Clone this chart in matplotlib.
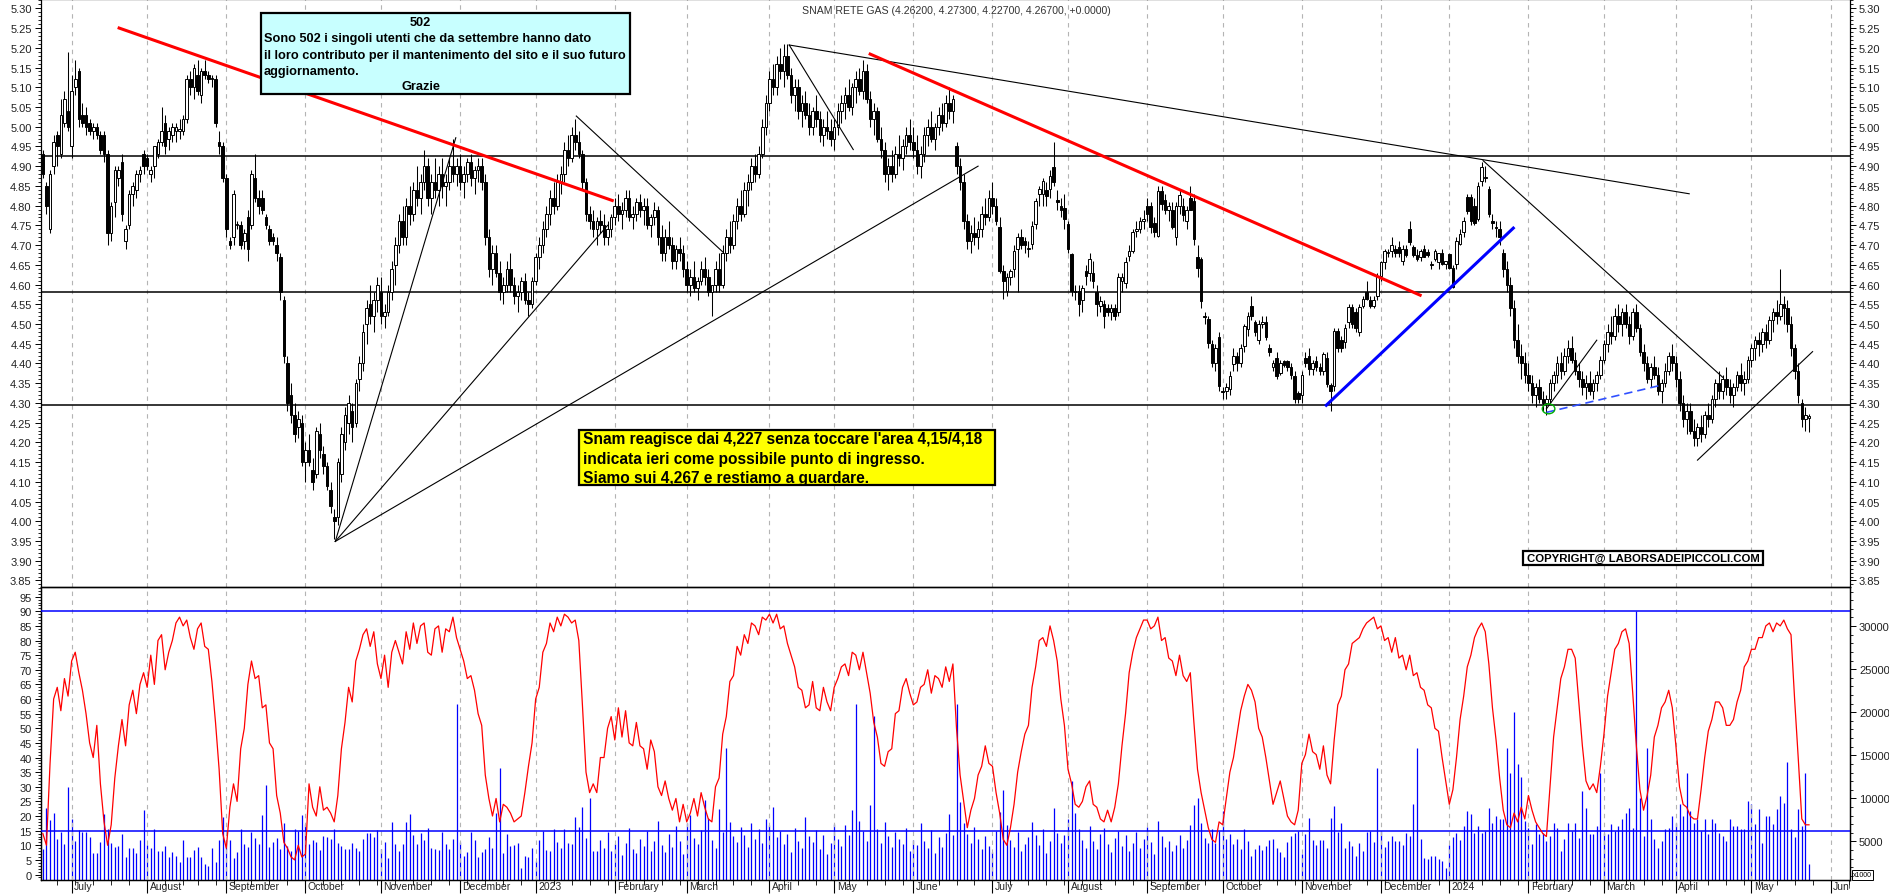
import numpy as np
import pandas as pd
import matplotlib
matplotlib.use("Agg")
import matplotlib.pyplot as plt
from matplotlib.patches import Rectangle, Ellipse
from matplotlib.ticker import MultipleLocator, FixedLocator, FormatStrFormatter
import matplotlib.transforms as mtransforms

# --------------------------------------------------------------
# DATA (daily candles, Snam 21/06/2022 - 24/05/2024)
# --------------------------------------------------------------
opens = [
    4.93, 4.85, 4.74, 4.90, 4.98, 4.93, 5.01, 5.04, 4.95, 5.10,
    5.14, 5.03, 5.03, 5.01, 4.99, 5.00, 4.98, 4.98, 4.93, 4.73,
    4.81, 4.87, 4.91, 4.71, 4.75, 4.83, 4.84, 4.88, 4.93, 4.92,
    4.88, 4.90, 4.93, 4.96, 5.01, 4.97, 4.98, 4.99, 4.99, 4.99,
    5.02, 5.12, 5.10, 5.13, 5.08, 5.14, 5.13, 5.12, 5.12, 4.96,
    4.95, 4.87, 4.71, 4.72, 4.75, 4.75, 4.71, 4.77, 4.75, 4.87,
    4.82, 4.82, 4.77, 4.74, 4.72, 4.70, 4.67, 4.56, 4.40, 4.32,
    4.27, 4.24, 4.25, 4.15, 4.18, 4.13, 4.12, 4.22, 4.17, 4.14,
    4.08, 4.01, 4.01, 4.12, 4.20, 4.25, 4.28, 4.25, 4.36, 4.40,
    4.50, 4.55, 4.52, 4.56, 4.58, 4.52, 4.53, 4.58, 4.65, 4.70,
    4.76, 4.72, 4.80, 4.78, 4.84, 4.82, 4.86, 4.90, 4.82, 4.86,
    4.84, 4.88, 4.85, 4.86, 4.90, 4.88, 4.90, 4.86, 4.88, 4.91,
    4.87, 4.89, 4.90, 4.86, 4.72, 4.64, 4.68, 4.63, 4.58, 4.60,
    4.64, 4.60, 4.57, 4.58, 4.61, 4.56, 4.55, 4.61, 4.67, 4.70,
    4.74, 4.78, 4.82, 4.80, 4.86, 4.88, 4.94, 4.92, 4.98, 4.96,
    4.93, 4.86, 4.78, 4.76, 4.74, 4.76, 4.75, 4.72, 4.74, 4.77,
    4.80, 4.78, 4.79, 4.82, 4.77, 4.78, 4.81, 4.79, 4.80, 4.75,
    4.77, 4.79, 4.72, 4.68, 4.72, 4.70, 4.66, 4.69, 4.68, 4.64,
    4.60, 4.62, 4.59, 4.61, 4.64, 4.62, 4.58, 4.60, 4.64, 4.60,
    4.68, 4.72, 4.70, 4.76, 4.80, 4.78, 4.84, 4.86, 4.90, 4.88,
    4.93, 5.00, 5.06, 5.12, 5.10, 5.16, 5.14, 5.18, 5.13, 5.08,
    5.10, 5.04, 5.06, 5.03, 5.00, 5.04, 5.02, 4.98, 5.00, 4.99,
    4.97, 5.00, 5.04, 5.06, 5.08, 5.05, 5.10, 5.12, 5.09, 5.14,
    5.07, 5.02, 5.04, 4.97, 4.94, 4.88, 4.90, 4.88, 4.93, 4.92,
    4.95, 4.98, 4.96, 4.94, 4.90, 4.93, 4.98, 5.00, 4.97, 5.00,
    5.03, 5.01, 5.06, 5.04, 4.95, 4.90, 4.86, 4.76, 4.71, 4.73,
    4.72, 4.74, 4.78, 4.77, 4.82, 4.80, 4.745, 4.635, 4.584, 4.62,
    4.64, 4.69, 4.72, 4.71, 4.69, 4.703, 4.753, 4.83, 4.83, 4.84,
    4.842, 4.897, 4.815, 4.80, 4.795, 4.753, 4.677, 4.584, 4.584, 4.56,
    4.635, 4.63, 4.63, 4.58, 4.546, 4.55, 4.54, 4.53, 4.54, 4.53,
    4.61, 4.605, 4.673, 4.685, 4.735, 4.74, 4.76, 4.80, 4.80, 4.757,
    4.724, 4.838, 4.815, 4.79, 4.79, 4.72, 4.80, 4.80, 4.76, 4.82,
    4.812, 4.669, 4.665, 4.52, 4.512, 4.449, 4.40, 4.466, 4.33, 4.33,
    4.335, 4.398, 4.42, 4.40, 4.445, 4.487, 4.546, 4.504, 4.46, 4.50,
    4.504, 4.44, 4.39, 4.415, 4.375, 4.405, 4.405, 4.39, 4.369, 4.326,
    4.32, 4.415, 4.42, 4.385, 4.405, 4.39, 4.381, 4.415, 4.345, 4.343,
    4.483, 4.46, 4.455, 4.504, 4.542, 4.53, 4.479, 4.545, 4.58, 4.56,
    4.545, 4.572, 4.622, 4.656, 4.68, 4.685, 4.69, 4.695, 4.66, 4.69,
    4.74, 4.695, 4.675, 4.67, 4.69, 4.683, 4.65, 4.665, 4.657, 4.68,
    4.652, 4.677, 4.643, 4.652, 4.703, 4.732, 4.821, 4.821, 4.80, 4.766,
    4.863, 4.87, 4.842, 4.76, 4.745, 4.74, 4.68, 4.64, 4.60, 4.54,
    4.46, 4.42, 4.40, 4.37, 4.35, 4.32, 4.34, 4.31, 4.30, 4.31,
    4.35, 4.37, 4.40, 4.38, 4.42, 4.44, 4.41, 4.38, 4.36, 4.34,
    4.35, 4.33, 4.35, 4.37, 4.41, 4.45, 4.48, 4.47, 4.52, 4.50,
    4.53, 4.50, 4.47, 4.53, 4.49, 4.43, 4.40, 4.36, 4.39, 4.37,
    4.33, 4.35, 4.38, 4.42, 4.40, 4.36, 4.30, 4.26, 4.28, 4.23,
    4.21, 4.24, 4.22, 4.27, 4.26, 4.31, 4.35, 4.33, 4.36, 4.34,
    4.32, 4.34, 4.37, 4.35, 4.36, 4.41, 4.44, 4.46, 4.45, 4.48,
    4.46, 4.51, 4.53, 4.52, 4.55, 4.54, 4.50, 4.44, 4.38, 4.30,
    4.26, 4.262,
]
highs = [
    4.94, 4.86, 4.89, 4.98, 4.99, 5.07, 5.09, 5.19, 5.13, 5.17,
    5.15, 5.06, 5.05, 5.02, 5.01, 5.01, 4.99, 4.99, 4.94, 4.81,
    4.90, 4.90, 4.93, 4.75, 4.84, 4.86, 4.89, 4.90, 4.94, 4.93,
    4.90, 4.95, 4.97, 5.05, 5.03, 5.00, 5.01, 5.01, 5.02, 5.03,
    5.13, 5.14, 5.16, 5.17, 5.15, 5.17, 5.14, 5.13, 5.13, 4.99,
    4.96, 4.88, 4.72, 4.84, 4.76, 4.76, 4.74, 4.79, 4.89, 4.93,
    4.84, 4.84, 4.78, 4.75, 4.73, 4.72, 4.68, 4.57, 4.42, 4.35,
    4.30, 4.28, 4.27, 4.20, 4.22, 4.16, 4.24, 4.25, 4.19, 4.15,
    4.10, 4.03, 4.16, 4.24, 4.29, 4.32, 4.30, 4.36, 4.42, 4.50,
    4.56, 4.60, 4.58, 4.62, 4.62, 4.55, 4.60, 4.66, 4.72, 4.78,
    4.80, 4.82, 4.85, 4.86, 4.90, 4.88, 4.94, 4.92, 4.88, 4.92,
    4.90, 4.92, 4.88, 4.92, 4.97, 4.92, 4.93, 4.90, 4.92, 4.93,
    4.90, 4.92, 4.92, 4.88, 4.74, 4.70, 4.70, 4.66, 4.62, 4.66,
    4.68, 4.62, 4.60, 4.62, 4.63, 4.58, 4.62, 4.68, 4.72, 4.76,
    4.80, 4.84, 4.86, 4.88, 4.90, 4.96, 4.98, 5.00, 5.02, 4.99,
    4.94, 4.87, 4.80, 4.79, 4.77, 4.79, 4.78, 4.76, 4.78, 4.82,
    4.83, 4.81, 4.84, 4.84, 4.80, 4.82, 4.83, 4.82, 4.82, 4.78,
    4.81, 4.80, 4.75, 4.74, 4.76, 4.72, 4.70, 4.72, 4.70, 4.66,
    4.64, 4.66, 4.62, 4.66, 4.67, 4.64, 4.60, 4.66, 4.68, 4.70,
    4.74, 4.76, 4.78, 4.82, 4.84, 4.86, 4.88, 4.92, 4.93, 4.95,
    5.02, 5.08, 5.14, 5.16, 5.18, 5.20, 5.21, 5.21, 5.15, 5.12,
    5.12, 5.08, 5.09, 5.06, 5.05, 5.08, 5.04, 5.02, 5.04, 5.02,
    5.02, 5.06, 5.08, 5.10, 5.12, 5.11, 5.14, 5.15, 5.17, 5.16,
    5.09, 5.06, 5.05, 5.00, 4.96, 4.92, 4.94, 4.95, 4.98, 4.97,
    5.00, 5.02, 5.00, 4.98, 4.95, 5.00, 5.02, 5.04, 5.01, 5.05,
    5.06, 5.08, 5.10, 5.08, 4.96, 4.92, 4.88, 4.78, 4.75, 4.77,
    4.76, 4.80, 4.82, 4.84, 4.86, 4.82, 4.77, 4.65, 4.63, 4.64,
    4.70, 4.73, 4.74, 4.72, 4.71, 4.76, 4.82, 4.85, 4.87, 4.86,
    4.89, 4.96, 4.84, 4.82, 4.83, 4.76, 4.68, 4.60, 4.60, 4.60,
    4.65, 4.68, 4.66, 4.60, 4.57, 4.56, 4.55, 4.55, 4.55, 4.63,
    4.63, 4.67, 4.70, 4.74, 4.76, 4.77, 4.79, 4.82, 4.81, 4.77,
    4.85, 4.85, 4.83, 4.81, 4.81, 4.81, 4.84, 4.82, 4.80, 4.85,
    4.83, 4.70, 4.67, 4.53, 4.52, 4.46, 4.45, 4.48, 4.34, 4.35,
    4.38, 4.44, 4.43, 4.45, 4.50, 4.53, 4.57, 4.51, 4.51, 4.52,
    4.52, 4.45, 4.41, 4.43, 4.41, 4.41, 4.41, 4.40, 4.38, 4.33,
    4.38, 4.43, 4.44, 4.41, 4.42, 4.40, 4.43, 4.43, 4.35, 4.49,
    4.49, 4.47, 4.50, 4.55, 4.55, 4.54, 4.55, 4.57, 4.61, 4.57,
    4.57, 4.63, 4.66, 4.69, 4.69, 4.72, 4.70, 4.71, 4.70, 4.70,
    4.76, 4.70, 4.69, 4.69, 4.70, 4.69, 4.66, 4.69, 4.68, 4.69,
    4.66, 4.68, 4.65, 4.72, 4.74, 4.77, 4.83, 4.83, 4.82, 4.86,
    4.91, 4.90, 4.85, 4.78, 4.76, 4.76, 4.69, 4.66, 4.62, 4.56,
    4.50, 4.45, 4.43, 4.40, 4.37, 4.35, 4.36, 4.33, 4.32, 4.36,
    4.38, 4.42, 4.43, 4.44, 4.46, 4.47, 4.43, 4.40, 4.38, 4.37,
    4.38, 4.36, 4.38, 4.42, 4.46, 4.50, 4.52, 4.54, 4.55, 4.54,
    4.55, 4.52, 4.54, 4.55, 4.50, 4.45, 4.42, 4.40, 4.42, 4.39,
    4.36, 4.40, 4.43, 4.45, 4.42, 4.38, 4.32, 4.30, 4.30, 4.26,
    4.25, 4.27, 4.28, 4.30, 4.32, 4.36, 4.38, 4.37, 4.39, 4.36,
    4.35, 4.38, 4.40, 4.38, 4.42, 4.45, 4.47, 4.48, 4.49, 4.50,
    4.52, 4.54, 4.56, 4.64, 4.57, 4.56, 4.52, 4.45, 4.40, 4.31,
    4.29, 4.273,
]
lows = [
    4.87, 4.78, 4.73, 4.88, 4.90, 4.92, 5.00, 4.99, 4.92, 5.08,
    5.00, 5.00, 4.98, 4.98, 4.97, 4.97, 4.93, 4.91, 4.70, 4.71,
    4.77, 4.85, 4.76, 4.69, 4.74, 4.80, 4.82, 4.86, 4.88, 4.89,
    4.86, 4.87, 4.92, 4.95, 4.93, 4.94, 4.96, 4.96, 4.97, 4.98,
    5.01, 5.08, 5.07, 5.08, 5.06, 5.12, 5.11, 5.10, 5.00, 4.93,
    4.86, 4.72, 4.69, 4.70, 4.74, 4.69, 4.69, 4.66, 4.74, 4.81,
    4.78, 4.78, 4.74, 4.70, 4.70, 4.66, 4.56, 4.40, 4.28, 4.25,
    4.20, 4.21, 4.14, 4.10, 4.14, 4.08, 4.11, 4.16, 4.12, 4.08,
    4.02, 3.955, 3.99, 4.10, 4.18, 4.22, 4.20, 4.24, 4.33, 4.38,
    4.45, 4.50, 4.48, 4.53, 4.50, 4.49, 4.52, 4.56, 4.60, 4.68,
    4.70, 4.70, 4.75, 4.76, 4.80, 4.78, 4.84, 4.80, 4.78, 4.82,
    4.80, 4.82, 4.80, 4.84, 4.86, 4.85, 4.84, 4.82, 4.86, 4.85,
    4.83, 4.86, 4.84, 4.70, 4.62, 4.60, 4.62, 4.56, 4.55, 4.58,
    4.58, 4.55, 4.53, 4.56, 4.55, 4.52, 4.54, 4.60, 4.64, 4.68,
    4.72, 4.75, 4.78, 4.79, 4.83, 4.86, 4.90, 4.91, 4.94, 4.92,
    4.84, 4.76, 4.74, 4.72, 4.70, 4.73, 4.70, 4.70, 4.72, 4.75,
    4.76, 4.74, 4.77, 4.76, 4.74, 4.76, 4.77, 4.75, 4.74, 4.72,
    4.75, 4.70, 4.66, 4.66, 4.69, 4.64, 4.64, 4.66, 4.62, 4.58,
    4.57, 4.58, 4.56, 4.60, 4.60, 4.57, 4.52, 4.58, 4.58, 4.59,
    4.66, 4.68, 4.69, 4.74, 4.76, 4.77, 4.80, 4.84, 4.86, 4.87,
    4.92, 4.98, 5.04, 5.08, 5.08, 5.12, 5.10, 5.12, 5.06, 5.04,
    5.02, 5.00, 5.02, 4.98, 4.98, 5.00, 4.96, 4.95, 4.97, 4.95,
    4.94, 4.98, 5.01, 5.02, 5.04, 5.03, 5.06, 5.08, 5.07, 5.06,
    5.00, 4.98, 4.96, 4.92, 4.86, 4.84, 4.86, 4.87, 4.90, 4.89,
    4.93, 4.94, 4.92, 4.88, 4.87, 4.91, 4.95, 4.96, 4.94, 4.98,
    4.99, 5.00, 5.02, 5.01, 4.88, 4.84, 4.74, 4.69, 4.68, 4.70,
    4.69, 4.72, 4.75, 4.76, 4.78, 4.75, 4.63, 4.563, 4.57, 4.60,
    4.62, 4.58, 4.69, 4.68, 4.67, 4.69, 4.74, 4.80, 4.80, 4.80,
    4.82, 4.85, 4.79, 4.77, 4.74, 4.68, 4.57, 4.56, 4.52, 4.53,
    4.60, 4.61, 4.59, 4.52, 4.53, 4.49, 4.52, 4.51, 4.51, 4.52,
    4.58, 4.59, 4.66, 4.68, 4.72, 4.73, 4.74, 4.76, 4.73, 4.72,
    4.72, 4.79, 4.78, 4.76, 4.74, 4.70, 4.78, 4.76, 4.74, 4.79,
    4.70, 4.62, 4.54, 4.50, 4.44, 4.39, 4.38, 4.33, 4.31, 4.31,
    4.32, 4.38, 4.38, 4.39, 4.43, 4.47, 4.51, 4.47, 4.45, 4.49,
    4.46, 4.42, 4.38, 4.36, 4.37, 4.39, 4.38, 4.36, 4.30, 4.30,
    4.30, 4.39, 4.37, 4.37, 4.38, 4.37, 4.37, 4.34, 4.28, 4.33,
    4.43, 4.43, 4.44, 4.49, 4.49, 4.48, 4.47, 4.54, 4.56, 4.54,
    4.54, 4.56, 4.61, 4.64, 4.67, 4.67, 4.67, 4.67, 4.65, 4.67,
    4.70, 4.67, 4.66, 4.66, 4.67, 4.67, 4.64, 4.66, 4.64, 4.65,
    4.64, 4.64, 4.59, 4.64, 4.70, 4.72, 4.78, 4.75, 4.75, 4.76,
    4.85, 4.86, 4.77, 4.74, 4.72, 4.70, 4.62, 4.58, 4.52, 4.44,
    4.40, 4.36, 4.35, 4.33, 4.30, 4.29, 4.30, 4.28, 4.27, 4.30,
    4.33, 4.35, 4.36, 4.37, 4.40, 4.40, 4.37, 4.34, 4.32, 4.31,
    4.32, 4.31, 4.33, 4.36, 4.40, 4.43, 4.45, 4.46, 4.48, 4.47,
    4.49, 4.45, 4.46, 4.48, 4.42, 4.38, 4.35, 4.34, 4.36, 4.32,
    4.30, 4.34, 4.37, 4.38, 4.34, 4.28, 4.24, 4.22, 4.22, 4.19,
    4.19, 4.20, 4.21, 4.24, 4.25, 4.29, 4.31, 4.31, 4.32, 4.30,
    4.29, 4.33, 4.33, 4.32, 4.35, 4.39, 4.41, 4.42, 4.43, 4.44,
    4.45, 4.48, 4.50, 4.51, 4.50, 4.48, 4.42, 4.36, 4.30, 4.24,
    4.23, 4.227,
]
closes = [
    4.88, 4.80, 4.88, 4.96, 4.95, 5.03, 5.07, 5.00, 5.09, 5.12,
    5.02, 5.01, 5.00, 4.99, 5.00, 4.98, 4.94, 4.93, 4.73, 4.80,
    4.89, 4.89, 4.78, 4.74, 4.83, 4.85, 4.88, 4.89, 4.90, 4.90,
    4.89, 4.95, 4.96, 4.99, 4.95, 4.99, 5.00, 5.00, 4.99, 5.02,
    5.12, 5.10, 5.15, 5.09, 5.14, 5.13, 5.12, 5.12, 5.01, 4.95,
    4.87, 4.74, 4.70, 4.83, 4.75, 4.70, 4.73, 4.69, 4.88, 4.82,
    4.80, 4.79, 4.75, 4.71, 4.71, 4.68, 4.58, 4.42, 4.30, 4.27,
    4.22, 4.26, 4.15, 4.18, 4.15, 4.10, 4.23, 4.18, 4.14, 4.09,
    4.04, 4.00, 4.15, 4.22, 4.27, 4.30, 4.24, 4.35, 4.40, 4.48,
    4.54, 4.52, 4.56, 4.60, 4.52, 4.53, 4.58, 4.64, 4.70, 4.76,
    4.72, 4.80, 4.78, 4.84, 4.82, 4.86, 4.90, 4.82, 4.86, 4.84,
    4.88, 4.85, 4.86, 4.90, 4.88, 4.90, 4.86, 4.88, 4.91, 4.87,
    4.89, 4.90, 4.86, 4.72, 4.64, 4.68, 4.63, 4.58, 4.60, 4.64,
    4.60, 4.57, 4.58, 4.61, 4.56, 4.55, 4.61, 4.67, 4.70, 4.74,
    4.78, 4.82, 4.80, 4.86, 4.88, 4.94, 4.92, 4.98, 4.96, 4.93,
    4.86, 4.78, 4.76, 4.74, 4.76, 4.75, 4.72, 4.74, 4.77, 4.80,
    4.78, 4.79, 4.82, 4.77, 4.78, 4.81, 4.79, 4.80, 4.75, 4.77,
    4.79, 4.72, 4.68, 4.72, 4.70, 4.66, 4.69, 4.68, 4.64, 4.60,
    4.62, 4.59, 4.61, 4.64, 4.62, 4.58, 4.60, 4.64, 4.60, 4.68,
    4.72, 4.70, 4.76, 4.80, 4.78, 4.84, 4.86, 4.90, 4.88, 4.93,
    5.00, 5.06, 5.12, 5.10, 5.16, 5.14, 5.18, 5.13, 5.08, 5.10,
    5.04, 5.06, 5.03, 5.00, 5.04, 5.02, 4.98, 5.00, 4.99, 4.97,
    5.00, 5.04, 5.06, 5.08, 5.05, 5.10, 5.12, 5.09, 5.14, 5.07,
    5.02, 5.04, 4.97, 4.94, 4.88, 4.90, 4.88, 4.93, 4.92, 4.95,
    4.98, 4.96, 4.94, 4.90, 4.93, 4.98, 5.00, 4.97, 5.00, 5.03,
    5.01, 5.06, 5.04, 5.07, 4.90, 4.86, 4.76, 4.71, 4.73, 4.72,
    4.74, 4.78, 4.77, 4.82, 4.80, 4.76, 4.635, 4.61, 4.62, 4.635,
    4.685, 4.72, 4.70, 4.70, 4.69, 4.749, 4.812, 4.842, 4.862, 4.825,
    4.875, 4.859, 4.81, 4.79, 4.766, 4.69, 4.584, 4.58, 4.55, 4.59,
    4.622, 4.664, 4.61, 4.55, 4.559, 4.52, 4.53, 4.54, 4.52, 4.618,
    4.62, 4.656, 4.685, 4.732, 4.74, 4.76, 4.765, 4.78, 4.745, 4.732,
    4.838, 4.804, 4.79, 4.80, 4.745, 4.80, 4.828, 4.775, 4.79, 4.79,
    4.715, 4.643, 4.559, 4.517, 4.453, 4.402, 4.44, 4.343, 4.328, 4.34,
    4.369, 4.42, 4.40, 4.44, 4.495, 4.521, 4.521, 4.479, 4.50, 4.505,
    4.466, 4.43, 4.40, 4.369, 4.40, 4.395, 4.39, 4.37, 4.31, 4.31,
    4.37, 4.402, 4.385, 4.40, 4.39, 4.38, 4.424, 4.347, 4.33, 4.483,
    4.44, 4.44, 4.49, 4.542, 4.50, 4.49, 4.542, 4.563, 4.563, 4.545,
    4.56, 4.622, 4.656, 4.685, 4.682, 4.70, 4.68, 4.68, 4.69, 4.675,
    4.707, 4.675, 4.665, 4.685, 4.67, 4.675, 4.652, 4.685, 4.68, 4.652,
    4.66, 4.643, 4.593, 4.711, 4.728, 4.762, 4.787, 4.762, 4.755, 4.85,
    4.897, 4.872, 4.779, 4.757, 4.744, 4.72, 4.64, 4.60, 4.54, 4.46,
    4.42, 4.40, 4.37, 4.35, 4.32, 4.34, 4.31, 4.30, 4.31, 4.35,
    4.37, 4.40, 4.38, 4.42, 4.44, 4.41, 4.38, 4.36, 4.34, 4.35,
    4.33, 4.35, 4.37, 4.41, 4.45, 4.48, 4.47, 4.52, 4.50, 4.53,
    4.50, 4.47, 4.53, 4.49, 4.43, 4.40, 4.36, 4.39, 4.37, 4.33,
    4.35, 4.38, 4.42, 4.40, 4.36, 4.30, 4.26, 4.28, 4.23, 4.21,
    4.24, 4.22, 4.27, 4.26, 4.31, 4.35, 4.33, 4.36, 4.34, 4.32,
    4.34, 4.37, 4.35, 4.36, 4.41, 4.44, 4.46, 4.45, 4.48, 4.46,
    4.51, 4.53, 4.52, 4.55, 4.54, 4.50, 4.44, 4.38, 4.32, 4.26,
    4.27, 4.267,
]

# oscillatore (scala sinistra, 0-100)
oscillator = [
    14, 10, 38, 60, 64, 56, 67, 61, 73, 76,
    69, 63, 55, 45, 40, 51, 31, 18, 10, 17,
    33, 44, 53, 44, 58, 63, 55, 65, 69, 64,
    75, 65, 80, 82, 70, 76, 80, 86, 88, 85,
    87, 81, 77, 84, 86, 78, 77, 66, 52, 36,
    14, 9, 23, 31, 25, 43, 50, 65, 73, 67,
    68, 57, 58, 45, 43, 27, 21, 11, 9, 6,
    5, 10, 6, 7, 31, 23, 20, 30, 22, 23,
    21, 18, 27, 43, 52, 64, 59, 73, 77, 82,
    84, 78, 83, 72, 67, 75, 64, 76, 80, 76,
    72, 83, 77, 86, 79, 85, 86, 76, 75, 84,
    85, 76, 84, 83, 88, 81, 77, 73, 67, 68,
    63, 55, 51, 34, 26, 20, 26, 18, 24, 23,
    21, 18, 19, 20, 28, 37, 45, 60, 64, 76,
    79, 86, 83, 88, 85, 89, 88, 86, 87, 80,
    58, 35, 28, 31, 28, 40, 40, 50, 54, 46,
    57, 47, 56, 45, 44, 52, 44, 43, 36, 46,
    42, 30, 27, 32, 26, 22, 26, 18, 24, 18,
    21, 26, 20, 28, 23, 19, 18, 30, 33, 48,
    54, 66, 68, 78, 75, 82, 79, 86, 85, 82,
    88, 87, 89, 86, 89, 84, 85, 79, 75, 71,
    64, 63, 57, 58, 66, 57, 56, 64, 59, 56,
    64, 67, 71, 72, 68, 76, 75, 70, 76, 69,
    62, 52, 47, 38, 37, 42, 43, 55, 56, 64,
    67, 62, 58, 59, 64, 65, 70, 62, 68, 67,
    64, 71, 66, 72, 50, 34, 25, 16, 22, 26,
    34, 37, 44, 38, 37, 28, 21, 12, 10, 16,
    24, 35, 42, 48, 51, 64, 71, 80, 81, 78,
    85, 80, 73, 60, 51, 36, 31, 24, 23, 25,
    30, 32, 24, 23, 19, 18, 22, 18, 23, 31,
    44, 55, 69, 76, 81, 84, 87, 87, 84, 85,
    88, 80, 81, 74, 73, 68, 75, 68, 66, 69,
    52, 36, 28, 22, 16, 12, 11, 18, 17, 26,
    35, 40, 48, 56, 61, 65, 63, 59, 50, 47,
    40, 32, 24, 28, 32, 26, 20, 18, 17, 22,
    38, 41, 48, 42, 41, 36, 44, 34, 31, 46,
    58, 61, 70, 72, 79, 80, 81, 84, 86, 87,
    88, 84, 85, 80, 81, 76, 81, 74, 75, 70,
    75, 68, 69, 64, 63, 58, 57, 50, 49, 40,
    32, 24, 29, 40, 53, 61, 71, 75, 81, 84,
    86, 83, 72, 57, 46, 33, 22, 17, 16, 21,
    18, 23, 19, 27, 22, 18, 16, 14, 13, 30,
    47, 57, 67, 71, 77, 77, 74, 59, 44, 32,
    29, 31, 28, 37, 48, 61, 69, 77, 79, 83,
    84, 79, 62, 44, 29, 22, 27, 34, 47, 51,
    57, 59, 63, 57, 44, 30, 24, 23, 20, 19,
    19, 29, 40, 49, 53, 59, 59, 57, 51, 51,
    53, 59, 63, 71, 73, 77, 77, 81, 81, 85,
    86, 83, 86, 85, 87, 84, 82, 60, 40, 19,
    17, 17,
]

# volumi (migliaia di titoli, scala destra)
volume = [
    4070, 8920, 7440, 8260, 5310, 6130, 4650, 11320, 7560, 5040,
    6320, 6130, 6090, 5540, 3610, 3610, 4920, 8140, 6470, 4770,
    4340, 4460, 5820, 3180, 4300, 4300, 3610, 5120, 8610, 4540,
    4260, 6470, 3950, 3950, 4460, 3180, 3760, 3370, 2600, 5120,
    3220, 3220, 3990, 4380, 3220, 2330, 2210, 4190, 2600, 5120,
    7830, 5120, 5120, 3100, 3760, 6470, 4730, 4340, 6090, 5390,
    4730, 8030, 11510, 4340, 4920, 5430, 4070, 7170, 4460, 3950,
    6470, 6200, 8030, 7060, 4730, 5120, 4920, 3990, 5620, 5540,
    5230, 6470, 4770, 4460, 4150, 4070, 4770, 4260, 3950, 5310,
    5930, 5930, 5510, 6280, 4070, 4920, 3100, 7290, 4650, 3950,
    4730, 7250, 8140, 5700, 4650, 6010, 5120, 6590, 4260, 4070,
    3990, 6130, 4650, 4070, 5230, 21000, 4920, 3370, 3760, 6130,
    5120, 3180, 3800, 4150, 5540, 4190, 8260, 13500, 3610, 5820,
    4460, 4540, 4770, 1940, 3370, 3180, 4260, 2710, 5120, 6160,
    3990, 3880, 6470, 4960, 4260, 6470, 4770, 4730, 7870, 6710,
    9030, 5430, 10000, 3950, 3950, 5200, 4300, 6100, 3900, 4700,
    5600, 3400, 4800, 6600, 4100, 3700, 5300, 4500, 6200, 3900,
    5000, 7400, 4600, 3800, 5900, 4400, 6800, 5100, 3600, 7200,
    8100, 5400, 4700, 6300, 9800, 7700, 5200, 4300, 8800, 6100,
    15900, 7300, 5600, 4900, 6700, 5800, 4400, 7100, 5300, 6400,
    4800, 7600, 6900, 9000, 5500, 6200, 4700, 5900, 3800, 6600,
    5100, 4300, 7800, 5600, 4900, 6300, 4100, 5700, 3600, 4800,
    7000, 5300, 4500, 6900, 5800, 8600, 20900, 7400, 6200, 5100,
    9200, 19600, 6500, 4800, 7300, 5600, 4400, 6100, 5300, 4700,
    6600, 3900, 5200, 4600, 7100, 5000, 4200, 6300, 3700, 5500,
    4400, 6000, 8200, 5800, 21000, 9600, 7200, 5900, 4800, 6700,
    5300, 4100, 5600, 4500, 3800, 6200, 8400, 11000, 6900, 5200,
    4400, 6100, 3900, 4700, 5500, 7300, 5800, 4600, 6400, 3700,
    5100, 8900, 6000, 4800, 5700, 7600, 12000, 8300, 6500, 5200,
    4300, 6800, 5000, 4100, 5900, 6600, 4700, 3800, 5400, 6200,
    4500, 5700, 3900, 4800, 6100, 4200, 5300, 6700, 4900, 3600,
    7400, 5600, 4400, 5100, 3900, 4600, 5800, 4300, 5200, 6900,
    9200, 10100, 7170, 5430, 4800, 6400, 4850, 6200, 8530, 5230,
    5820, 4650, 5300, 4070, 6400, 5040, 3370, 4070, 4600, 3990,
    4460, 5120, 5310, 4260, 3800, 3180, 4960, 5620, 6010, 6200,
    3490, 5820, 7750, 5120, 4570, 5120, 5120, 4300, 7750, 9110,
    6090, 7170, 4260, 5000, 4460, 3300, 4850, 3880, 6130, 6200,
    4920, 13500, 6200, 4400, 5040, 5620, 5040, 5040, 4600, 6010,
    5620, 9300, 15900, 5230, 3100, 2910, 3300, 3370, 3000, 2710,
    1940, 4570, 5540, 6010, 5200, 6780, 8530, 8140, 6010, 6780,
    6010, 6200, 8920, 7170, 7950, 7560, 7560, 15900, 13000, 20000,
    14000, 12500, 7370, 6590, 4650, 6980, 5820, 6010, 5040, 5600,
    7170, 6590, 3880, 5230, 7170, 6200, 7170, 5400, 10860, 8920,
    5820, 5820, 6780, 13000, 6010, 5820, 6980, 6200, 6780, 7560,
    8340, 8920, 6590, 31700, 10080, 5620, 15900, 7560, 5230, 4260,
    5040, 6400, 6590, 7950, 7170, 9300, 7950, 13000, 8530, 7170,
    7560, 6200, 7560, 5820, 7560, 7170, 6000, 5620, 5040, 7560,
    6780, 6780, 6400, 6400, 9690, 9300, 7000, 8720, 4850, 7950,
    7950, 6980, 8720, 10270, 9500, 14200, 6400, 5500, 8720, 6780,
    12950, 2330,
]

# livelli orizzontali e trendline (indice seduta, prezzo)
price_levels = [4.926, 4.580, 4.2945]
osc_levels = [90, 15]
black_trendlines = [
    ((81.3, 3.949), (114.8, 4.972)),
    ((81.3, 3.949), (157.0, 4.750)),
    ((81.3, 3.949), (260.0, 4.900)),
    ((148.3, 5.027), (189.1, 4.682)),
    ((207.5, 5.207), (225.3, 4.942)),
    ((207.5, 5.207), (457.7, 4.830)),
    ((400.4, 4.914), (467.0, 4.365)),
    ((418.0, 4.285), (432.0, 4.459)),
    ((460.0, 4.155), (492.0, 4.430)),
]
red_trendlines = [((21.2, 5.250), (158.3, 4.813)), ((230.0, 5.184), (382.9, 4.573))]
blue_trendlines = [((356.8, 4.294), (408.8, 4.743))]
blue_dashed_trendlines = [((418.0, 4.276), (450.4, 4.346))]
circle_marker = (418.6, 4.285)

borsa_holidays = ["2022-08-15", "2022-12-26", "2023-04-07", "2023-04-10", "2023-05-01",
                  "2023-08-15", "2023-12-25", "2023-12-26", "2024-01-01", "2024-03-29",
                  "2024-04-01", "2024-05-01"]
month_names = {2: "February", 3: "March", 4: "April", 5: "May", 6: "June", 7: "July",
               8: "August", 9: "September", 10: "October", 11: "November", 12: "December"}

# --------------------------------------------------------------
# CALENDARIO DI BORSA
# --------------------------------------------------------------
sessions = pd.bdate_range("2022-06-21", "2024-06-14", freq="C", holidays=borsa_holidays)
month_pos, month_lab, week_pos = [], [], []
for i in range(1, len(sessions)):
    if sessions[i].month != sessions[i - 1].month:
        month_pos.append(i)
        m = sessions[i].month
        month_lab.append(str(sessions[i].year) if m == 1 else month_names[m])
    if sessions[i].weekday() < sessions[i - 1].weekday():
        week_pos.append(i)

W, H = 1890, 895
plt.rcParams["font.family"] = ["Liberation Sans", "DejaVu Sans"]
fig = plt.figure(figsize=(W / 100, H / 100), dpi=100)

def fx(px):
    return px / W

def fy(py):
    return 1 - py / H

left, right = 40.7, 1850
ax1 = fig.add_axes([fx(left), fy(588), fx(right - left), 588 / H])
ax2 = fig.add_axes([fx(left), fy(880.5), fx(right - left), (880.5 - 588) / H], sharex=ax1)
ax3 = ax2.twinx()

x = np.arange(len(closes))
o, h, l, c = map(np.array, (opens, highs, lows, closes))
up = c >= o
body_low = np.minimum(o, c)
body_h = np.maximum(np.abs(c - o), 0.003)

# --------------------------------------------------------------
# PANNELLO PREZZI
# --------------------------------------------------------------
for m in month_pos:
    ax1.axvline(m, color="#b4b4b4", lw=0.8, ls=(0, (4, 4)), zorder=0)
    ax2.axvline(m, color="#b4b4b4", lw=0.8, ls=(0, (4, 4)), zorder=0)

for lev in price_levels:
    ax1.axhline(lev, color="black", lw=1.1, zorder=2)

ax1.vlines(x, l, h, color="black", lw=0.75, zorder=3)
ax1.bar(x[up], body_h[up], bottom=body_low[up], width=0.72, color="white",
        edgecolor="black", linewidth=0.7, zorder=4)
ax1.bar(x[~up], body_h[~up], bottom=body_low[~up], width=0.72, color="black",
        edgecolor="black", linewidth=0.7, zorder=4)

for (x0, y0), (x1, y1) in black_trendlines:
    ax1.plot([x0, x1], [y0, y1], color="black", lw=0.8, zorder=5)
for (x0, y0), (x1, y1) in red_trendlines:
    ax1.plot([x0, x1], [y0, y1], color="#ff0000", lw=2.2, zorder=5)
for (x0, y0), (x1, y1) in blue_trendlines:
    ax1.plot([x0, x1], [y0, y1], color="#0000ff", lw=2.2, zorder=5)
for (x0, y0), (x1, y1) in blue_dashed_trendlines:
    ax1.plot([x0, x1], [y0, y1], color="#3050ff", lw=1.2, ls=(0, (5, 3)), zorder=5)
ax1.add_patch(Ellipse(circle_marker, 3.5, 0.025, fill=False, edgecolor="#00b000", lw=1.0, zorder=6))

ax1.set_ylim(3.8335, 5.3236)
ax1.set_xlim(-0.6, 502.4)
ax1.yaxis.set_major_locator(FixedLocator(np.round(np.arange(3.85, 5.3001, 0.05), 2)))
ax1.yaxis.set_minor_locator(MultipleLocator(0.01))
ax1.yaxis.set_major_formatter(FormatStrFormatter("%.2f"))
ax1.tick_params(axis="y", which="both", left=True, right=True, labelleft=True, labelright=True,
                direction="out", labelsize=8, labelcolor="#222222", pad=2)
ax1.tick_params(axis="y", which="major", length=4.5, width=0.7)
ax1.tick_params(axis="y", which="minor", length=2.5, width=0.6)
ax1.tick_params(axis="x", which="both", bottom=False, labelbottom=False)

# --------------------------------------------------------------
# PANNELLO INFERIORE (oscillatore + volumi)
# --------------------------------------------------------------
ax3.vlines(x, 0, volume, color="#0000ff", lw=0.9, zorder=2)
ax3.set_ylim(586, 34536)
for lev in osc_levels:
    ax2.axhline(lev, color="#0000ff", lw=1.1, zorder=3)
ax2.set_ylim(-1.7, 98.3)
ax2.set_zorder(ax3.get_zorder() + 1)
ax2.patch.set_visible(False)
ax2.plot(x, oscillator, color="#ff0000", lw=0.9, zorder=4)

ax2.yaxis.set_major_locator(FixedLocator(np.arange(0, 96, 5)))
ax2.yaxis.set_minor_locator(MultipleLocator(1))
ax3.yaxis.set_major_locator(FixedLocator(np.arange(5000, 30001, 5000)))
ax3.yaxis.set_minor_locator(MultipleLocator(1000))
for a in (ax2, ax3):
    a.tick_params(axis="y", which="both", direction="out", labelsize=8, labelcolor="#222222", pad=2)
    a.tick_params(axis="y", which="major", length=4.5, width=0.7)
    a.tick_params(axis="y", which="minor", length=2.5, width=0.6)

ax2.set_xticks(month_pos)
ax2.set_xticklabels(month_lab)
ax2.set_xticks(week_pos, minor=True)
ax2.tick_params(axis="x", which="major", direction="out", length=9, width=0.8, labelsize=7.5,
                labelcolor="#222222", pad=-8.2)
ax2.tick_params(axis="x", which="minor", direction="out", length=3.5, width=0.6)
shift = mtransforms.ScaledTranslation(2.5 / 100, 0, fig.dpi_scale_trans)
clip = mtransforms.Bbox.from_extents(0, 0, right, H)
for lab in ax2.get_xticklabels():
    lab.set_horizontalalignment("left")
    lab.set_transform(lab.get_transform() + shift)
    lab.set_clip_box(clip)
    lab.set_clip_on(True)

for a in (ax1, ax2, ax3):
    for s in a.spines.values():
        s.set_linewidth(0.9)
        s.set_color("black")

# --------------------------------------------------------------
# TESTI E RIQUADRI
# --------------------------------------------------------------
def box(x0, y0, x1, y1, face):
    fig.patches.append(Rectangle((fx(x0), fy(y1)), fx(x1 - x0), (y1 - y0) / H, transform=fig.transFigure,
                                 facecolor=face, edgecolor="black", lw=1.6, zorder=10))

fig.text(fx(802), fy(11), "SNAM RETE GAS (4.26200, 4.27300, 4.22700, 4.26700, +0.0000)",
         fontsize=7.6, color="#333333", va="center", ha="left")

box(261, 14, 630, 95, "#c8ffff")
fig.text(fx(420), fy(23), "502", fontsize=9.2, weight="bold", ha="center", va="center", zorder=11)
cyan_lines = ["Sono 502 i singoli utenti che da settembre hanno dato",
              "il loro contributo per il mantenimento del sito e il suo futuro",
              "aggiornamento."]
for k, t in enumerate(cyan_lines):
    fig.text(fx(264), fy(39 + 16.6 * k), t, fontsize=9.2, weight="bold",
             ha="left", va="center", zorder=11)
fig.text(fx(421), fy(87), "Grazie", fontsize=9.2, weight="bold", ha="center", va="center", zorder=11)

box(579, 431, 995, 486, "#ffff00")
yellow_lines = ["Snam reagisce dai 4,227 senza toccare l'area 4,15/4,18",
                "indicata ieri come possibile punto di ingresso.",
                "Siamo sui 4,267 e restiamo a guardare."]
for k, t in enumerate(yellow_lines):
    fig.text(fx(583), fy(440 + 19.3 * k), t, fontsize=11.2, weight="bold", ha="left", va="center", zorder=11)

box(1523, 552, 1763, 566, "white")
fig.text(fx(1643), fy(559), "COPYRIGHT@ LABORSADEIPICCOLI.COM", fontsize=8.2, weight="bold",
         ha="center", va="center", zorder=11)

fig.text(fx(1853), fy(876), "x1000", fontsize=5, ha="left", va="center",
         bbox=dict(facecolor="white", edgecolor="black", lw=0.7, pad=0.8))

fig.savefig("out.png", dpi=100)
